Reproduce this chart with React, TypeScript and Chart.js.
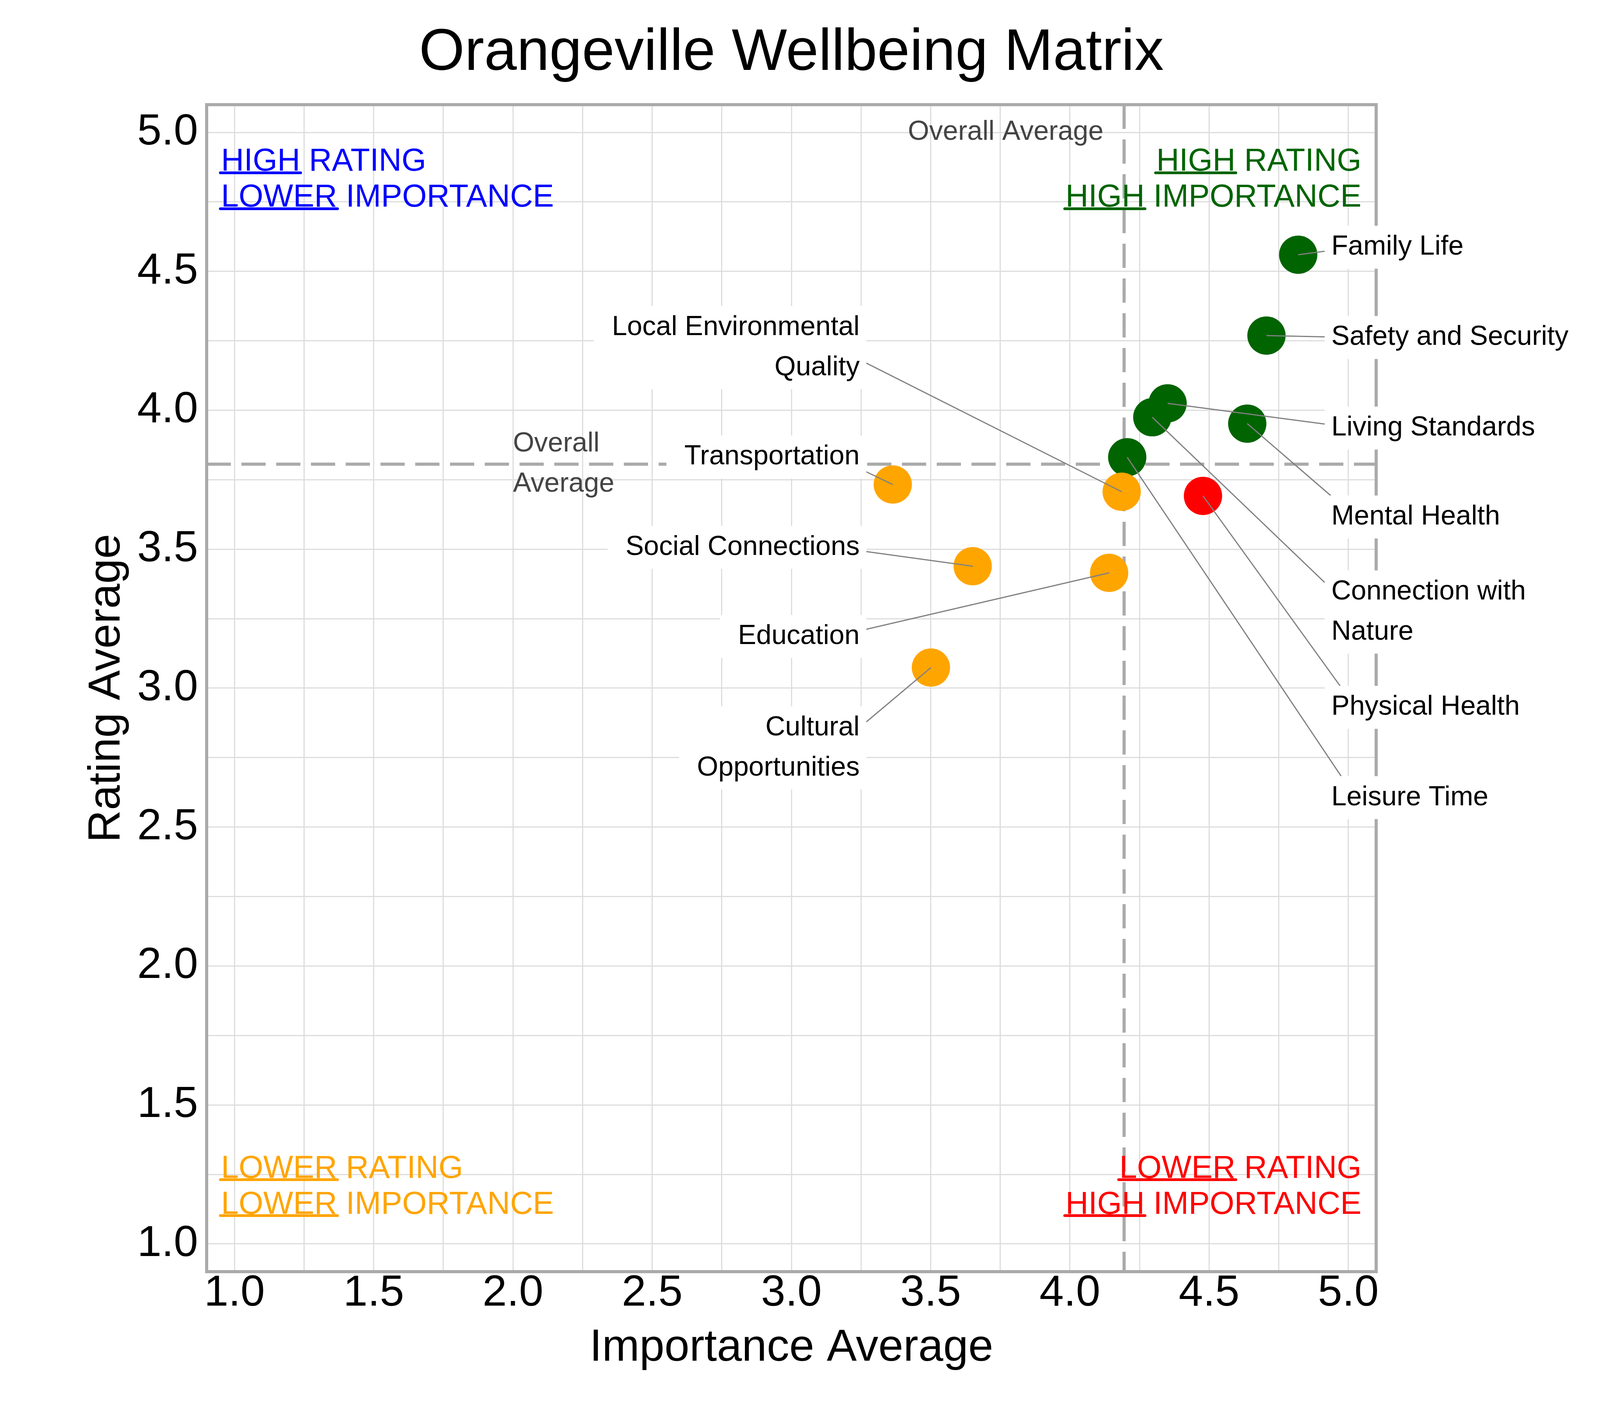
import React, { useEffect, useRef } from 'react';
import { Chart, registerables } from 'chart.js';

Chart.register(...registerables);

const FONT = '"Liberation Sans", Arial, Helvetica, sans-serif';

// survey results, one entry per wellbeing domain
const categories = [
  'Connection with Nature',
  'Cultural Opportunities',
  'Education',
  'Family Life',
  'Leisure Time',
  'Living Standards',
  'Local Environmental Quality',
  'Mental Health',
  'Physical Health',
  'Safety and Security',
  'Social Connections',
  'Transportation',
];
const importance = [4.296, 3.501, 4.141, 4.82, 4.206, 4.351, 4.186, 4.637, 4.478, 4.706, 3.651, 3.364];
const rating = [3.975, 3.074, 3.415, 4.56, 3.831, 4.025, 3.707, 3.952, 3.692, 4.269, 3.439, 3.733];

// axis ticks: grid every 0.25, labels every 0.5
const gridValues = [1.0, 1.25, 1.5, 1.75, 2.0, 2.25, 2.5, 2.75, 3.0, 3.25, 3.5, 3.75, 4.0, 4.25, 4.5, 4.75, 5.0];
const tickValues = [1.0, 1.5, 2.0, 2.5, 3.0, 3.5, 4.0, 4.5, 5.0];
const tickLabels = ['1.0', '1.5', '2.0', '2.5', '3.0', '3.5', '4.0', '4.5', '5.0'];

const mean = (arr: number[]) => arr.reduce((s, v) => s + v, 0) / arr.length;
const avgImportance = mean(importance);
const avgRating = mean(rating);

const quadrantColor = (x: number, y: number) => {
  if (x >= avgImportance) return y >= avgRating ? '#006400' : '#ff0000';
  return y >= avgRating ? '#0000ff' : '#ffa500';
};

// where the repelled labels sit (data units)
const RIGHT_LABEL_X = 4.939;
const LEFT_LABEL_X = 3.245;
const labelPlacement: Record<string, { side: 'left' | 'right'; y: number; lines: string[] }> = {
  'Family Life': { side: 'right', y: 4.587, lines: ['Family Life'] },
  'Safety and Security': { side: 'right', y: 4.262, lines: ['Safety and Security'] },
  'Living Standards': { side: 'right', y: 3.936, lines: ['Living Standards'] },
  'Mental Health': { side: 'right', y: 3.616, lines: ['Mental Health'] },
  'Connection with Nature': { side: 'right', y: 3.274, lines: ['Connection with', 'Nature'] },
  'Physical Health': { side: 'right', y: 2.931, lines: ['Physical Health'] },
  'Leisure Time': { side: 'right', y: 2.606, lines: ['Leisure Time'] },
  'Local Environmental Quality': { side: 'left', y: 4.226, lines: ['Local Environmental', 'Quality'] },
  'Transportation': { side: 'left', y: 3.832, lines: ['Transportation'] },
  'Social Connections': { side: 'left', y: 3.507, lines: ['Social Connections'] },
  'Education': { side: 'left', y: 3.186, lines: ['Education'] },
  'Cultural Opportunities': { side: 'left', y: 2.785, lines: ['Cultural', 'Opportunities'] },
};

const quadrantNotes = [
  { lines: [['HIGH', ' RATING'], ['LOWER', ' IMPORTANCE']], color: '#0000ff', x: 0.952, y: 4.838, align: 'left' },
  { lines: [['HIGH', ' RATING'], ['HIGH', ' IMPORTANCE']], color: '#006400', x: 5.047, y: 4.838, align: 'right' },
  { lines: [['LOWER', ' RATING'], ['LOWER', ' IMPORTANCE']], color: '#ffa500', x: 0.952, y: 1.214, align: 'left' },
  { lines: [['LOWER', ' RATING'], ['HIGH', ' IMPORTANCE']], color: '#ff0000', x: 5.047, y: 1.214, align: 'right' },
];

const LABEL_SIZE = 70;
const LABEL_LINE = 103;
const NOTE_SIZE = 81;
const NOTE_LINE = 92;

const tickLabel = (value: number | string) => {
  const i = tickValues.indexOf(Number(value));
  return i >= 0 ? tickLabels[i] : '';
};

const overlayPlugin = {
  id: 'matrixOverlay',
  beforeDatasetsDraw(chart: any) {
    const { ctx, chartArea: a, scales } = chart;
    const ax = scales.x.getPixelForValue(avgImportance);
    const ay = scales.y.getPixelForValue(avgRating);
    ctx.save();
    ctx.strokeStyle = '#aaaaaa';
    ctx.lineWidth = 8;
    ctx.setLineDash([62, 27]);
    ctx.beginPath();
    ctx.moveTo(ax, a.top);
    ctx.lineTo(ax, a.bottom);
    ctx.stroke();
    ctx.beginPath();
    ctx.moveTo(a.left, ay);
    ctx.lineTo(a.right, ay);
    ctx.stroke();
    ctx.setLineDash([]);
    ctx.strokeRect(a.left, a.top, a.right - a.left, a.bottom - a.top);
    ctx.restore();
  },
  afterDatasetsDraw(chart: any) {
    const { ctx, scales } = chart;
    const xs = scales.x;
    const ys = scales.y;
    ctx.save();

    // average annotations
    ctx.fillStyle = '#444444';
    ctx.font = `${LABEL_SIZE}px ${FONT}`;
    ctx.textBaseline = 'middle';
    ctx.textAlign = 'right';
    ctx.fillText('Overall Average', xs.getPixelForValue(avgImportance - 0.074), ys.getPixelForValue(5.0));
    ctx.textAlign = 'left';
    const avgY = ys.getPixelForValue(avgRating);
    ctx.fillText('Overall', xs.getPixelForValue(2.0), avgY - LABEL_LINE / 2);
    ctx.fillText('Average', xs.getPixelForValue(2.0), avgY + LABEL_LINE / 2);

    // label boxes + leader segments
    const boxes = categories.map((name, i) => {
      const place = labelPlacement[name];
      const px = xs.getPixelForValue(importance[i]);
      const py = ys.getPixelForValue(rating[i]);
      const tx = xs.getPixelForValue(place.side === 'right' ? RIGHT_LABEL_X : LEFT_LABEL_X);
      const ty = ys.getPixelForValue(place.y);
      const w = Math.max(...place.lines.map((l) => ctx.measureText(l).width));
      const halfH = 55 + (place.lines.length - 1) * (LABEL_LINE / 2);
      const left = place.side === 'right' ? tx - 17 : tx - w - 46;
      const right = place.side === 'right' ? tx + w + 46 : tx + 17;
      const top = ty - halfH;
      const bottom = ty + halfH;
      const aimX = place.side === 'right' ? tx + 62 : tx - 62;
      const dx = aimX - px;
      const dy = ty - py;
      let tEnter = 0;
      if (dx !== 0) {
        const t1 = (left - px) / dx;
        const t2 = (right - px) / dx;
        tEnter = Math.max(tEnter, Math.min(t1, t2));
      }
      if (dy !== 0) {
        const t1 = (top - py) / dy;
        const t2 = (bottom - py) / dy;
        tEnter = Math.max(tEnter, Math.min(t1, t2));
      }
      return { place, px, py, tx, ty, left, right, top, bottom, ex: px + dx * tEnter, ey: py + dy * tEnter };
    });

    ctx.strokeStyle = '#808080';
    ctx.lineWidth = 3;
    boxes.forEach((b) => {
      ctx.beginPath();
      ctx.moveTo(b.px, b.py);
      ctx.lineTo(b.ex, b.ey);
      ctx.stroke();
    });

    boxes.forEach((b) => {
      ctx.fillStyle = '#ffffff';
      ctx.fillRect(b.left, b.top, b.right - b.left, b.bottom - b.top);
      ctx.fillStyle = '#000000';
      ctx.textAlign = b.place.side === 'right' ? 'left' : 'right';
      const n = b.place.lines.length;
      b.place.lines.forEach((line, k) => {
        ctx.fillText(line, b.tx, b.ty - ((n - 1) * LABEL_LINE) / 2 + k * LABEL_LINE);
      });
    });

    // quadrant notes with the first word underlined
    ctx.font = `${NOTE_SIZE}px ${FONT}`;
    ctx.textAlign = 'left';
    ctx.textBaseline = 'alphabetic';
    ctx.lineCap = 'round';
    quadrantNotes.forEach((note) => {
      const nx = xs.getPixelForValue(note.x);
      const cy = ys.getPixelForValue(note.y);
      ctx.fillStyle = note.color;
      ctx.strokeStyle = note.color;
      ctx.lineWidth = 7;
      note.lines.forEach(([first, rest], k) => {
        const baseline = cy + (k - 0.5) * NOTE_LINE + NOTE_SIZE * 0.358;
        const w1 = ctx.measureText(first).width;
        const total = ctx.measureText(first + rest).width;
        const start = note.align === 'left' ? nx : nx - total;
        ctx.fillText(first, start, baseline);
        ctx.fillText(rest, start + w1, baseline);
        ctx.beginPath();
        ctx.moveTo(start - 2, baseline + 5);
        ctx.lineTo(start + w1 + 1, baseline + 5);
        ctx.stroke();
      });
    });

    ctx.restore();
  },
};

const App = () => {
  const canvasRef = useRef<HTMLCanvasElement>(null);

  useEffect(() => {
    if (!canvasRef.current) return;
    Chart.defaults.font.family = FONT;

    const chart = new Chart(canvasRef.current, {
      type: 'scatter',
      data: {
        datasets: [
          {
            label: 'Wellbeing',
            data: categories.map((_, i) => ({ x: importance[i], y: rating[i] })),
            backgroundColor: categories.map((_, i) => quadrantColor(importance[i], rating[i])),
            pointRadius: 49,
            pointHoverRadius: 49,
            borderWidth: 0,
          },
        ],
      },
      options: {
        responsive: false,
        animation: false,
        devicePixelRatio: 1,
        layout: { padding: { top: 0, right: 677, bottom: 0, left: 0 } },
        plugins: {
          legend: { display: false },
          tooltip: { enabled: false },
          title: {
            display: true,
            text: 'Orangeville Wellbeing Matrix',
            color: '#000000',
            fullSize: false,
            font: { size: 150, weight: 'normal', lineHeight: 1.2 },
            padding: { top: 48, bottom: 40 },
          },
        },
        scales: {
          x: {
            type: 'linear',
            min: 0.9,
            max: 5.1,
            afterBuildTicks: (axis: any) => {
              axis.ticks = gridValues.map((value) => ({ value }));
            },
            afterFit: (axis: any) => {
              axis.height = 344;
            },
            grid: { color: '#dddddd', lineWidth: 3, drawTicks: false },
            border: { display: false },
            ticks: {
              color: '#000000',
              font: { size: 112, lineHeight: 0.9 },
              padding: 6,
              autoSkip: false,
              maxRotation: 0,
              callback: (value: any) => tickLabel(value),
            },
            title: {
              display: true,
              text: 'Importance Average',
              color: '#000000',
              font: { size: 115, lineHeight: 1.2 },
              padding: { top: 0, bottom: 79 },
            },
          },
          y: {
            type: 'linear',
            min: 0.9,
            max: 5.1,
            afterBuildTicks: (axis: any) => {
              axis.ticks = gridValues.map((value) => ({ value }));
            },
            afterFit: (axis: any) => {
              axis.width = 529;
            },
            grid: { color: '#dddddd', lineWidth: 3, drawTicks: false },
            border: { display: false },
            ticks: {
              color: '#000000',
              font: { size: 112, lineHeight: 0.9 },
              padding: 22,
              autoSkip: false,
              callback: (value: any) => tickLabel(value),
            },
            title: {
              display: true,
              text: 'Rating Average',
              color: '#000000',
              font: { size: 115, lineHeight: 1.2 },
              padding: { top: 205, bottom: 0 },
            },
          },
        },
      },
      plugins: [overlayPlugin],
    } as any);

    return () => {
      chart.destroy();
    };
  }, []);

  return (
    <div style={{ position: 'absolute', left: 0, top: 0, width: 4200, height: 3600, background: '#ffffff' }}>
      <canvas ref={canvasRef} width={4200} height={3600} />
    </div>
  );
};

export default App;
